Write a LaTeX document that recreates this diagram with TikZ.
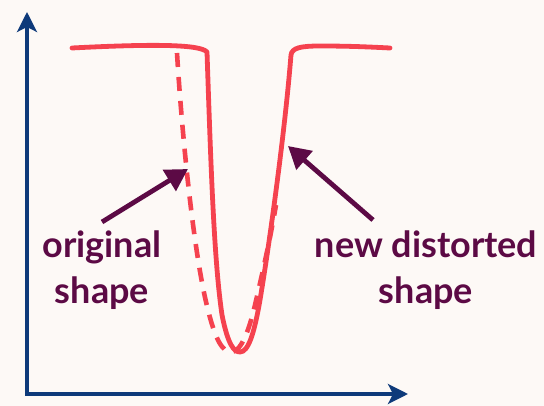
\documentclass[tikz,border=0pt]{standalone}
\usepackage{fontspec}
\setmainfont{Lato}
\usetikzlibrary{arrows.meta}
\definecolor{bg}{HTML}{FDF9F6}
\definecolor{axisblue}{HTML}{0E3A7A}
\definecolor{curvered}{HTML}{F5424F}
\definecolor{labelpurple}{HTML}{5C0A45}
\tikzset{
  axisline/.style={draw=axisblue, line width=3.3pt, -{Stealth[length=20pt,width=20pt,inset=5pt]}},
  curveline/.style={draw=curvered, line width=4.8pt, line cap=round, line join=round},
  dashcurve/.style={draw=curvered, line width=4.6pt, dash pattern=on 14pt off 10pt},
  pointer/.style={draw=labelpurple, line width=4.8pt, -{Triangle[length=22pt,width=24pt]}},
  labeltext/.style={text=labelpurple, font=\fontsize{36}{46}\selectfont\bfseries, align=center, inner sep=0pt}
}
\begin{document}
\begin{tikzpicture}[x={(1pt,0)}, y={(0,-1pt)}]
\fill[bg] (0,0) rectangle (544,406);
\useasboundingbox (0,0) rectangle (544,406);
% axes
\coordinate (origin) at (27,394);
\coordinate (ytip) at (27,12);
\coordinate (xtip) at (408,394);
\draw[axisline] (27,395.5) -- (ytip);
\draw[axisline] (25.5,394) -- (xtip);
% dashed original shape
\draw[dashcurve] (177,53) .. controls (183,150) and (195,260) .. (208,310)
  .. controls (215,338) and (222,352) .. (231,352)
  .. controls (240,352) and (248,335) .. (255,305)
  .. controls (262,275) and (270,240) .. (276,205);
% solid distorted shape
\draw[curveline] (72,48) .. controls (150,44) and (200,44) .. (207,52)
  .. controls (211,170) and (214,260) .. (222,315)
  .. controls (228,345) and (234,352) .. (240,352)
  .. controls (248,352) and (254,335) .. (260,300)
  .. controls (270,240) and (285,130) .. (291,55)
  .. controls (292,48) and (300,46) .. (320,46)
  .. controls (350,46) and (370,47) .. (390,48);
% labels
\node[labeltext] (orig) at (102,270) {original\\shape};
\node[labeltext] (newd) at (426,270) {new distorted\\shape};
\coordinate (origtarget) at (188,169);
\coordinate (newtarget) at (288,146);
\coordinate (origstart) at (102,222);
\coordinate (newstart) at (373,220);
\draw[pointer] (origstart) -- (origtarget);
\draw[pointer] (newstart) -- (newtarget);
\end{tikzpicture}
\end{document}
